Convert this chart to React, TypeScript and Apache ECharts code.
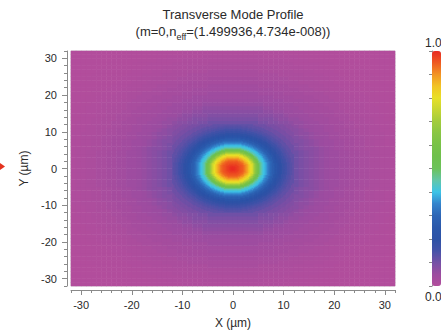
import React, { useEffect, useRef } from "react";
import * as echarts from "echarts";

// Radial cut of the mode intensity (radius in µm -> normalised value)
const PROFILE_RADII = [
  0, 0.25, 0.5, 0.75, 1, 1.25, 1.5, 1.75, 2, 2.25, 2.5, 2.75, 3, 3.25, 3.5, 3.75, 4, 4.25, 4.5, 4.75,
  5, 5.25, 5.5, 5.75, 6, 6.25, 6.5, 6.75, 7, 7.25, 7.5, 7.75, 8, 8.5, 9, 9.5, 10, 10.5, 11, 11.5, 12,
  13, 14, 15, 16, 17, 18, 19, 20, 22, 24, 26, 28, 30, 32, 34, 36, 40, 46,
];
const PROFILE_VALUES = [
  1.0, 0.999, 0.995, 0.99, 0.98, 0.975, 0.965, 0.958, 0.95, 0.94, 0.925, 0.905, 0.88, 0.855, 0.83, 0.8, 0.77, 0.725, 0.68, 0.63,
  0.58, 0.53, 0.48, 0.445, 0.42, 0.405, 0.39, 0.37, 0.35, 0.33, 0.31, 0.29, 0.27, 0.24, 0.21, 0.19, 0.17, 0.155, 0.14, 0.13, 0.12,
  0.105, 0.093, 0.083, 0.074, 0.066, 0.058, 0.051, 0.045, 0.036, 0.029, 0.022, 0.016, 0.011, 0.007, 0.004, 0.002, 0, 0,
];

// Colour scale of the colour bar, bottom (0.0) to top (1.0)
const COLORMAP = [
  "#b24d9c", "#9c4ca0", "#7450a6", "#4452a8", "#2c52a6", "#2b58ab", "#2e66b6", "#3584cc",
  "#3cc4e8", "#62c6a8", "#6cc25a", "#6ec04c", "#78c248", "#88c644", "#a2cc3c", "#c6d632",
  "#e8e028", "#f2c424", "#f29424", "#ee5a22", "#e82a22",
];

const TITLE = "Transverse Mode Profile";
const SUBTITLE = "(m=0,n{sub|eff}=(1.499936,4.734e-008))";
const X_NAME = "X (µm)";
const Y_NAME = "Y (µm)";
const BAR_LABELS = ["1.0", "0.0"];
const EXTENT = 32; // µm, half width of the window
const COARSE_STEP = 1; // µm, cell size of the full window
const CORE_EXTENT = 12; // µm, half width of the finely sampled core
const FINE_STEP = 0.25; // µm, cell size of the core

// plot layout (px)
const PLOT_LEFT = 71;
const PLOT_TOP = 51;
const PLOT_W = 324;
const PLOT_H = 235;

function nearestValue(r: number): number {
  let best = 0;
  let bd = Infinity;
  for (let i = 0; i < PROFILE_RADII.length; i++) {
    const d = Math.abs(PROFILE_RADII[i] - r);
    if (d < bd) {
      bd = d;
      best = i;
    }
  }
  return PROFILE_VALUES[best];
}

function buildCells(half: number, step: number) {
  const n = Math.round((2 * half) / step);
  const cats = Array.from({ length: n }, (_, i) => String(i));
  const cells: number[][] = [];
  for (let i = 0; i < n; i++) {
    for (let j = 0; j < n; j++) {
      const x = -half + (i + 0.5) * step;
      const y = -half + (j + 0.5) * step;
      cells.push([i, j, nearestValue(Math.hypot(x, y))]);
    }
  }
  return { cats, cells };
}

const COARSE = buildCells(EXTENT, COARSE_STEP);
const CORE = buildCells(CORE_EXTENT, FINE_STEP);

const FONT = "'Liberation Sans', Arial, sans-serif";
const AXIS_COLOR = "#8a8a8a";
const TEXT_COLOR = "#2a2a2a";

export default function App() {
  const ref = useRef<HTMLDivElement>(null);
  useEffect(() => {
    if (!ref.current) return;
    const chart = echarts.init(ref.current, null, { renderer: "svg" });
    const coreLeft = PLOT_LEFT + ((EXTENT - CORE_EXTENT) / (2 * EXTENT)) * PLOT_W;
    const coreTop = PLOT_TOP + ((EXTENT - CORE_EXTENT) / (2 * EXTENT)) * PLOT_H;
    const coreW = ((2 * CORE_EXTENT) / (2 * EXTENT)) * PLOT_W;
    const coreH = ((2 * CORE_EXTENT) / (2 * EXTENT)) * PLOT_H;
    const majorX = {
      type: "value",
      gridIndex: 0,
      min: -EXTENT,
      max: EXTENT,
      position: "bottom",
      offset: 4,
      axisLine: { show: true, onZero: false, lineStyle: { color: AXIS_COLOR } },
      axisTick: { show: true, length: 5, lineStyle: { color: AXIS_COLOR } },
      axisLabel: { color: TEXT_COLOR, fontSize: 11, margin: 9, showMinLabel: false, showMaxLabel: false, fontFamily: FONT },
      splitLine: { show: false },
      name: X_NAME,
      nameLocation: "middle",
      nameGap: 27,
      nameTextStyle: { color: TEXT_COLOR, fontSize: 12, fontFamily: FONT },
    };
    const minorX = {
      type: "value",
      gridIndex: 0,
      min: -EXTENT,
      max: EXTENT,
      interval: 2,
      position: "bottom",
      offset: 4,
      axisLine: { show: false, onZero: false },
      axisTick: { show: true, length: 3, lineStyle: { color: AXIS_COLOR } },
      axisLabel: { show: false },
      splitLine: { show: false },
    };
    const majorY = {
      ...majorX,
      position: "left",
      axisLabel: { ...majorX.axisLabel, margin: 10 },
      name: Y_NAME,
      nameGap: 36,
    };
    const minorY = { ...minorX, position: "left" };
    const option: any = {
      animation: false,
      backgroundColor: "#ffffff",
      textStyle: { fontFamily: FONT },
      grid: [
        { left: PLOT_LEFT, top: PLOT_TOP, width: PLOT_W, height: PLOT_H, show: true, borderColor: "#d0d0d0", borderWidth: 1, backgroundColor: "transparent" },
        { left: 432, top: PLOT_TOP, width: 9, height: PLOT_H },
        { left: coreLeft, top: coreTop, width: coreW, height: coreH },
      ],
      xAxis: [
        { type: "category", gridIndex: 0, data: COARSE.cats, show: false },
        majorX,
        minorX,
        { type: "value", gridIndex: 1, min: 0, max: 1, show: false },
        { type: "category", gridIndex: 2, data: CORE.cats, show: false },
      ],
      yAxis: [
        { type: "category", gridIndex: 0, data: COARSE.cats, show: false },
        majorY,
        minorY,
        {
          type: "value",
          gridIndex: 1,
          min: 0,
          max: 1,
          interval: 0.1,
          position: "left",
          axisLine: { show: true, onZero: false, lineStyle: { color: AXIS_COLOR } },
          axisTick: { show: true, length: 3, lineStyle: { color: AXIS_COLOR } },
          axisLabel: { show: false },
          splitLine: { show: false },
        },
        { type: "category", gridIndex: 2, data: CORE.cats, show: false },
      ],
      visualMap: {
        type: "continuous",
        min: 0,
        max: 1,
        seriesIndex: [0, 1],
        dimension: 2,
        calculable: false,
        inRange: { color: COLORMAP },
        left: 432,
        top: PLOT_TOP,
        itemWidth: 9,
        itemHeight: PLOT_H,
        padding: 0,
      },
      series: [
        {
          type: "heatmap",
          xAxisIndex: 0,
          yAxisIndex: 0,
          data: COARSE.cells,
          progressive: 0,
          emphasis: { disabled: true },
        },
        {
          type: "heatmap",
          xAxisIndex: 4,
          yAxisIndex: 4,
          data: CORE.cells,
          progressive: 0,
          emphasis: { disabled: true },
        },
      ],
      graphic: [
        {
          type: "text",
          x: 233,
          y: 14,
          style: { text: TITLE, fontSize: 13, fill: TEXT_COLOR, align: "center", verticalAlign: "middle", fontFamily: FONT },
        },
        {
          type: "text",
          x: 233,
          y: 31,
          style: {
            text: SUBTITLE,
            fontSize: 13,
            lineHeight: 20,
            fill: TEXT_COLOR,
            align: "center",
            verticalAlign: "middle",
            fontFamily: FONT,
            rich: { sub: { fontSize: 9, lineHeight: 20, verticalAlign: "bottom", fill: TEXT_COLOR, fontFamily: FONT } },
          },
        },
        {
          type: "text",
          x: 425,
          y: 43,
          style: { text: BAR_LABELS[0], fontSize: 12, fill: TEXT_COLOR, align: "left", verticalAlign: "middle", fontFamily: FONT },
        },
        {
          type: "text",
          x: 425,
          y: 297,
          style: { text: BAR_LABELS[1], fontSize: 12, fill: TEXT_COLOR, align: "left", verticalAlign: "middle", fontFamily: FONT },
        },
        {
          type: "polygon",
          shape: { points: [[0, 163], [5, 166.5], [0, 170]] },
          style: { fill: "#e4331f" },
        },
      ],
    };
    chart.setOption(option);
    return () => chart.dispose();
  }, []);
  return <div ref={ref} style={{ position: "fixed", left: 0, top: 0, width: 441, height: 334 }} />;
}
